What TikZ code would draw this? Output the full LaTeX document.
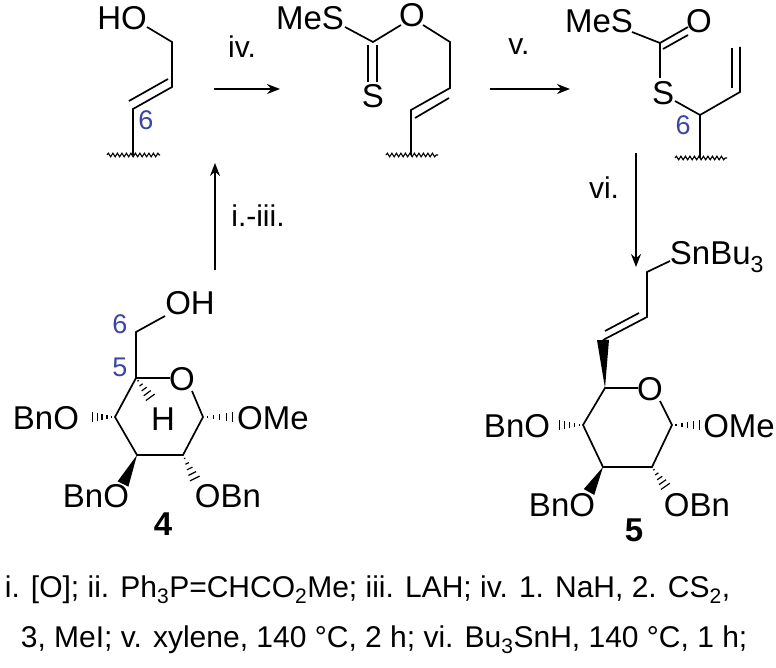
\documentclass[tikz,border=0pt]{standalone}
\usepackage{fontspec}
\setmainfont{Liberation Sans}
\usetikzlibrary{calc,decorations.pathmorphing,arrows.meta}
\definecolor{numblue}{RGB}{60,70,160}
\newcommand{\hashb}[2]{\foreach \t in {0.12,0.3,0.48,0.66,0.84,1.0}{\coordinate (hm) at ($(#1)!\t!(#2)$); \draw[line width=1.2pt] ($(hm)!{\t*6.5pt}!90:(#2)$) -- ($(hm)!{\t*6.5pt}!-90:(#2)$);}}
\newcommand{\wedgeb}[2]{\fill (#1) -- ($(#2)!6pt!90:(#1)$) -- ($(#2)!6pt!-90:(#1)$) -- cycle;}
\begin{document}
\begin{tikzpicture}[x=1pt,y=-1pt,line width=1.7pt,
  atom/.style={inner sep=0pt,font=\fontsize{33}{38}\selectfont},
  num/.style={inner sep=0pt,text=numblue,font=\fontsize{27}{32}\selectfont},
  lab/.style={inner sep=0pt,font=\fontsize{30}{36}\selectfont},
  wavy/.style={decorate,decoration={snake,amplitude=1.8pt,segment length=4.5pt},line width=1.1pt},
  rxn/.style={-{Stealth[length=13pt,width=10pt]},line width=1.7pt}]
\useasboundingbox (0,0) rectangle (776,668);
% ---------- compound A (allylic alcohol)
\node[atom] (aHO) at (122,18) {HO};
\coordinate (a1) at (172,42); \coordinate (a2) at (172,87);
\coordinate (a3) at (133,109); \coordinate (a4) at (133,155);
\draw (147,27) -- (a1) -- (a2) -- (a3) -- (a4);
\draw ($(a3)+(-4,-8)$) -- ($(a2)+(-4,-8)$);
\draw[wavy] (107,155) -- (160,155);
\node[num] at (146,120) {6};
% arrow iv
\draw[rxn] (214,89) -- (280,89);
\node[lab] at (242,47) {iv.};
% ---------- compound B (xanthate)
\node[atom] (bMeS) at (310,18) {MeS};
\node[atom] (bO) at (412,15) {O};
\node[atom] (bS) at (373,96) {S};
\coordinate (b1) at (373,42); \coordinate (b2) at (450,42);
\coordinate (b3) at (450,88); \coordinate (b4) at (411,110); \coordinate (b5) at (411,155);
\draw (345,27) -- (b1) -- (401,25);
\draw (423,25) -- (b2) -- (b3) -- (b4) -- (b5);
\draw (368,45) -- (368,82); \draw (377,45) -- (377,82);
\draw ($(b4)+(4,8)$) -- ($(b3)+(-1,10)$);
\draw[wavy] (386,155) -- (438,155);
% arrow v
\draw[rxn] (490,89) -- (570,89);
\node[lab] at (519,47) {v.};
% ---------- compound C (thiocarbonate)
\node[atom] (cMeS) at (599,21) {MeS};
\node[atom] (cO) at (699,21) {O};
\node[atom] (cS) at (663,93) {S};
\coordinate (c1) at (660,43); \coordinate (c2) at (700,115);
\coordinate (c3) at (740,92); \coordinate (c4) at (740,47); \coordinate (c5) at (700,158);
\draw (632,32) -- (c1) -- (660,78);
\draw (c1) -- (688,27); \draw (663,49) -- (688,35);
\draw (675,101) -- (c2) -- (c3) -- (c4);
\draw (732,48) -- (732,88);
\draw (c2) -- (c5);
\draw[wavy] (675,158) -- (727,158);
\node[num] at (683,125) {6};
% arrow vi
\draw[rxn] (636,153) -- (636,267);
\node[lab] at (604,188) {vi.};
% arrow i-iii
\draw[rxn] (215,270) -- (215,163);
\node[lab] at (258,216) {i.-iii.};
% ---------- compound 4
\node[atom] (dOH) at (190,303) {OH};
\node[atom] (dO) at (182,379) {O};
\coordinate (d5) at (136,378); \coordinate (d1) at (203,417);
\coordinate (d2) at (183,455); \coordinate (d3) at (137,455);
\coordinate (d4) at (115,417); \coordinate (d6) at (136,332);
\draw (170,378) -- (d5) -- (d4) -- (d3) -- (d2) -- (d1) -- (192,391);
\draw (d5) -- (d6) -- (165,316);
\node[num] at (120,324) {6};
\node[num] at (120,367) {5};
\coordinate (dH) at (153,401); \hashb{d5}{dH}
\node[atom] at (163,419) {H};
\coordinate (dL) at (88,417); \hashb{d4}{dL}
\node[atom] at (46,418) {BnO};
\coordinate (dR) at (238,417); \hashb{d1}{dR}
\node[atom] at (273,418) {OMe};
\coordinate (dW) at (123,484); \wedgeb{d3}{dW}
\node[atom] at (96,496) {BnO};
\coordinate (dX) at (197,483); \hashb{d2}{dX}
\node[atom] at (228,496) {OBn};
\node[atom,font=\bfseries\fontsize{33}{38}\selectfont] at (163,524) {4};
% ---------- compound 5
\node[atom] (eSn) at (717,257) {SnBu\textsubscript{3}};
\node[atom] (eO) at (650,389) {O};
\coordinate (e7) at (647,272); \coordinate (e6) at (647,317);
\coordinate (eV) at (603,340);
\coordinate (e5) at (605,388); \coordinate (e1) at (672,425);
\coordinate (e2) at (652,467); \coordinate (e3) at (603,467); \coordinate (e4) at (583,425);
\draw (670,261) -- (e7) -- (e6) -- (eV);
\draw ($(eV)+(2,-9)$) -- ($(e6)+(-8,-4)$);
\wedgeb{e5}{eV}
\draw (638,388) -- (e5) -- (e4) -- (e3) -- (e2) -- (e1) -- (660,401);
\coordinate (eL) at (555,425); \hashb{e4}{eL}
\node[atom] at (517,426) {BnO};
\coordinate (eR) at (705,425); \hashb{e1}{eR}
\node[atom] at (739,426) {OMe};
\coordinate (eW) at (589,492); \wedgeb{e3}{eW}
\node[atom] at (562,505) {BnO};
\coordinate (eX) at (668,490); \hashb{e2}{eX}
\node[atom] at (697,505) {OBn};
\node[atom,font=\bfseries\fontsize{33}{38}\selectfont] at (634,530) {5};
% ---------- conditions
\node[lab,anchor=west] (t1) at (4,590) {i. [O]; ii. Ph\textsubscript{3}P=CHCO\textsubscript{2}Me; iii. LAH; iv. 1. NaH, 2. CS\textsubscript{2},};
\node[lab,anchor=west] (t2) at (20,640) {3, MeI; v. xylene, 140 °C, 2 h; vi. Bu\textsubscript{3}SnH, 140 °C, 1 h;};
\end{tikzpicture}
\end{document}
